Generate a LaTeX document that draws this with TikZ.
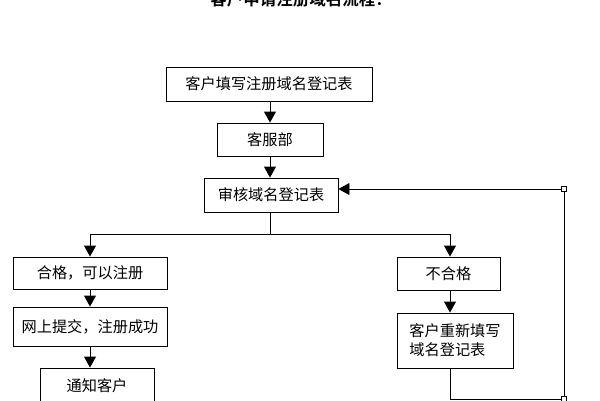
\documentclass[tikz,border=0pt]{standalone}
\usepackage{fontspec}
\setmainfont{Noto Sans CJK SC}
\newfontfamily\cjkbold{Noto Sans CJK SC Bold}
\usetikzlibrary{arrows.meta}
\begin{document}
\begin{tikzpicture}[x=1pt,y=-1pt,
  box/.style={draw,line width=0.9pt,inner sep=2pt,font=\fontsize{15.2}{19}\selectfont},
  arr/.style={line width=0.9pt,-{Triangle[length=11pt,width=12pt]}},
  ln/.style={line width=0.9pt},
  sq/.style={draw,fill=white,line width=0.8pt,minimum size=5pt,inner sep=0pt}]
\useasboundingbox (0,0) rectangle (600,400);
\clip (0,0) rectangle (600,400);
\node[font=\cjkbold\fontsize{16.5}{18}\selectfont] (title) at (301,-1) {客户申请注册域名流程：};
\node[box,minimum width=206pt,minimum height=34pt] (b1) at (269,84) {客户填写注册域名登记表};
\node[box,minimum width=106pt,minimum height=33pt] (b2) at (270,139.5) {客服部};
\node[box,minimum width=134pt,minimum height=34pt] (b3) at (271,195) {审核域名登记表};
\node[box,minimum width=154pt,minimum height=32pt] (ok) at (90,273) {合格，可以注册};
\node[box,minimum width=154pt,minimum height=39pt] (net) at (90,326.5) {网上提交，注册成功};
\node[box,minimum width=114pt,minimum height=36pt] (notify) at (97,386) {通知客户};
\node[box,minimum width=103pt,minimum height=33pt] (bad) at (448.5,273.5) {不合格};
\node[box,minimum width=116pt,minimum height=55pt,align=left] (redo) at (455,340.5) {客户重新填写\\域名登记表};
\coordinate (split) at (270,234);
\coordinate (sl) at (90,234);
\coordinate (sr) at (450,234);
\coordinate (bot) at (450,399);
\node[sq] (c1) at (564,189) {};
\node[sq] (c2) at (564,399) {};
\draw[arr] (b1.south -| 270,0) -- (b2.north -| 270,0);
\draw[arr] (b2.south -| 270,0) -- (b3.north -| 270,0);
\draw[ln] (b3.south -| split) -- (split);
\draw[ln] (sl) -- (sr);
\draw[arr] (sl) -- (ok.north);
\draw[arr] (sr) -- (bad.north -| sr);
\draw[arr] (ok.south) -- (net.north);
\draw[arr] (net.south) -- (net.south |- notify.north);
\draw[arr] (bad.south -| sr) -- (redo.north -| sr);
\draw[ln] (redo.south -| sr) -- (bot) -- (c2.west);
\draw[ln] (c2.north) -- (c1.south);
\draw[arr] (c1.west) -- (b3.east |- c1);
\end{tikzpicture}
\end{document}
